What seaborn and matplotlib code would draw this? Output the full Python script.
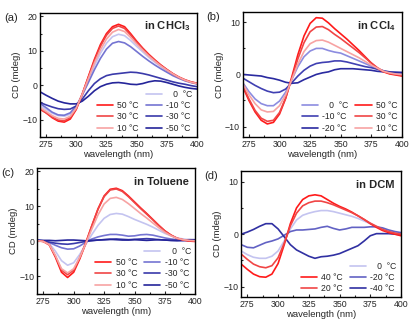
import numpy as np
import pandas as pd
import matplotlib
matplotlib.use("Agg")
import matplotlib.pyplot as plt
from matplotlib.lines import Line2D
from matplotlib.ticker import MultipleLocator, AutoMinorLocator
import seaborn as sns

sns.set_style("ticks")
plt.rcParams["font.family"] = ["Liberation Sans", "DejaVu Sans"]
plt.rcParams["mathtext.fontset"] = "custom"
plt.rcParams["mathtext.rm"] = "Liberation Sans"
plt.rcParams["mathtext.bf"] = "Liberation Sans:bold"

wavelength = list(range(270, 401, 5))

# ---- (a) CHCl3 ----
chcl3_50 = [-6.8, -8.0, -9.4, -10.4, -10.7, -9.8, -7.0, -2.5, 2.5, 7.5, 11.8, 15.0, 17.0, 17.7, 17.0, 15.0, 12.8, 10.8, 9.0, 7.4, 5.9, 4.6, 3.4, 2.4, 1.6, 1.0, 0.6]
chcl3_30 = [-7.0, -8.0, -9.2, -10.1, -10.3, -9.4, -6.8, -2.5, 2.3, 7.1, 11.3, 14.5, 16.5, 17.2, 16.5, 14.6, 12.5, 10.6, 8.8, 7.2, 5.8, 4.5, 3.3, 2.3, 1.5, 0.9, 0.5]
chcl3_10 = [-6.5, -7.6, -8.8, -9.6, -9.8, -9.0, -6.6, -2.6, 1.9, 6.4, 10.3, 13.4, 15.4, 16.2, 15.6, 13.9, 12.0, 10.2, 8.5, 7.0, 5.6, 4.4, 3.3, 2.3, 1.5, 0.9, 0.5]
chcl3_0 = [-6.0, -7.0, -8.1, -8.8, -9.0, -8.4, -6.4, -2.8, 1.4, 5.6, 9.3, 12.2, 14.1, 14.8, 14.4, 13.0, 11.3, 9.7, 8.1, 6.7, 5.4, 4.2, 3.2, 2.2, 1.5, 0.9, 0.5]
chcl3_m10 = [-5.3, -6.5, -7.8, -8.6, -8.7, -8.0, -6.0, -2.8, 0.8, 4.5, 7.8, 10.5, 12.2, 12.7, 12.3, 11.2, 9.8, 8.4, 7.1, 5.9, 4.8, 3.8, 2.8, 2.0, 1.3, 0.8, 0.4]
chcl3_m30 = [-5.0, -5.7, -6.3, -6.8, -7.0, -6.9, -6.0, -4.0, -1.6, 0.5, 1.9, 2.8, 3.2, 3.4, 3.6, 3.8, 3.7, 3.4, 3.0, 2.5, 2.0, 1.5, 1.0, 0.6, 0.3, -0.1, -0.4]
chcl3_m50 = [-1.9, -2.9, -3.8, -4.6, -5.1, -5.4, -5.4, -4.6, -3.2, -1.6, -0.4, 0.3, 0.7, 0.8, 0.6, 0.3, 0.2, 0.5, 1.0, 1.3, 1.2, 0.8, 0.3, -0.2, -0.6, -0.9, -1.1]

# ---- (b) CCl4 ----
ccl4_50 = [-2.4, -5.0, -7.2, -8.8, -9.5, -9.2, -7.6, -4.6, -0.5, 3.8, 7.4, 9.8, 10.9, 10.8, 9.9, 8.8, 7.8, 6.8, 5.7, 4.6, 3.4, 2.2, 1.2, 0.5, 0.1, -0.1, -0.3]
ccl4_30 = [-2.2, -4.7, -6.9, -8.4, -9.0, -8.8, -7.3, -4.5, -0.8, 3.0, 6.1, 8.2, 9.1, 9.2, 8.6, 7.7, 6.9, 6.0, 5.1, 4.2, 3.2, 2.2, 1.3, 0.6, 0.2, 0.0, -0.2]
ccl4_10 = [-1.8, -3.9, -5.6, -6.8, -7.2, -7.1, -6.0, -3.9, -1.0, 2.0, 4.4, 5.9, 6.5, 6.6, 6.2, 5.6, 5.0, 4.4, 3.8, 3.2, 2.5, 1.8, 1.2, 0.6, 0.3, 0.1, 0.0]
ccl4_0 = [-1.6, -3.3, -4.7, -5.6, -6.0, -6.0, -5.1, -3.4, -1.0, 1.5, 3.4, 4.5, 5.0, 5.0, 4.6, 4.3, 4.1, 3.6, 3.1, 2.6, 2.1, 1.6, 1.1, 0.7, 0.4, 0.2, 0.1]
ccl4_m10 = [-0.7, -1.4, -2.1, -2.7, -3.2, -3.5, -3.4, -2.8, -1.6, -0.3, 0.8, 1.6, 2.1, 2.3, 2.4, 2.6, 2.6, 2.4, 2.1, 1.8, 1.5, 1.3, 1.0, 0.7, 0.5, 0.4, 0.3]
ccl4_m20 = [0.0, -0.1, -0.2, -0.3, -0.6, -0.8, -1.1, -1.5, -1.7, -1.6, -1.0, -0.5, 0.0, 0.3, 0.5, 0.9, 1.1, 1.1, 1.1, 1.0, 0.9, 0.8, 0.6, 0.5, 0.4, 0.4, 0.4]

# ---- (c) Toluene ----
tol_50 = [0.2, 0.0, -1.0, -4.5, -8.8, -10.3, -8.8, -5.0, -0.5, 4.5, 9.3, 13.0, 14.9, 15.2, 14.5, 13.0, 11.3, 9.6, 8.0, 6.3, 4.6, 3.0, 1.8, 0.9, 0.4, 0.1, 0.0]
tol_30 = [0.2, 0.0, -0.9, -4.2, -8.2, -9.5, -8.2, -4.6, -0.3, 4.6, 9.2, 12.8, 14.7, 15.0, 14.3, 12.8, 11.1, 9.4, 7.8, 6.2, 4.5, 3.0, 1.8, 0.9, 0.5, 0.2, 0.1]
tol_10 = [0.2, 0.0, -0.9, -4.0, -7.8, -9.0, -7.8, -4.5, -0.6, 3.6, 7.6, 10.7, 12.3, 12.6, 12.0, 10.8, 9.4, 8.0, 6.7, 5.3, 3.9, 2.6, 1.6, 0.9, 0.5, 0.3, 0.2]
tol_0 = [0.3, 0.1, -0.6, -2.8, -5.5, -6.8, -6.1, -3.7, -0.8, 2.0, 4.6, 6.6, 7.7, 8.0, 7.8, 7.1, 6.3, 5.6, 4.9, 4.1, 3.2, 2.3, 1.6, 1.0, 0.7, 0.5, 0.4]
tol_m10 = [0.3, 0.2, -0.3, -1.1, -1.8, -2.2, -2.1, -1.3, -0.2, 0.7, 1.3, 1.7, 2.0, 2.0, 1.8, 1.5, 1.6, 1.9, 2.0, 1.8, 1.4, 1.0, 0.7, 0.5, 0.4, 0.3, 0.3]
tol_m30 = [0.3, 0.1, -0.2, -0.5, -0.7, -0.8, -0.6, -0.3, 0.0, 0.2, 0.4, 0.5, 0.6, 0.7, 0.6, 0.5, 0.6, 0.7, 0.8, 0.7, 0.5, 0.4, 0.3, 0.2, 0.2, 0.3, 0.4]
tol_m50 = [0.4, 0.3, 0.3, 0.2, 0.3, 0.4, 0.4, 0.3, 0.2, 0.3, 0.4, 0.5, 0.6, 0.5, 0.4, 0.4, 0.5, 0.4, 0.3, 0.4, 0.5, 0.4, 0.3, 0.3, 0.4, 0.5, 0.5]

# ---- (d) DCM ----
dcm_40 = [-5.7, -6.7, -7.6, -8.1, -8.2, -7.6, -5.6, -2.0, 2.0, 5.0, 6.6, 7.3, 7.5, 7.3, 6.6, 5.9, 5.3, 4.8, 4.2, 3.5, 2.8, 2.0, 1.3, 0.7, 0.3, 0.0, -0.3]
dcm_20 = [-3.8, -4.8, -5.7, -6.2, -6.4, -6.0, -4.5, -1.7, 1.6, 4.0, 5.4, 6.0, 6.3, 6.3, 6.0, 5.6, 5.1, 4.6, 4.1, 3.5, 2.8, 2.1, 1.5, 0.9, 0.5, 0.2, 0.0]
dcm_0 = [-3.2, -3.9, -4.4, -4.6, -4.6, -4.2, -3.2, -1.3, 1.0, 2.7, 3.6, 4.0, 4.3, 4.5, 4.5, 4.3, 4.0, 3.7, 3.4, 3.0, 2.5, 2.0, 1.5, 1.0, 0.6, 0.3, 0.1]
dcm_m20 = [-2.0, -2.5, -2.6, -2.1, -1.6, -1.3, -0.9, -0.2, 0.5, 0.8, 0.8, 0.9, 1.0, 1.3, 1.5, 1.1, 0.8, 1.0, 1.3, 1.3, 1.3, 1.4, 1.4, 1.2, 0.8, 0.5, 0.3]
dcm_m40 = [0.0, 0.4, 0.9, 1.5, 2.0, 2.0, 1.0, -0.5, -2.0, -3.0, -3.6, -4.2, -4.6, -4.3, -4.2, -4.0, -3.7, -3.2, -2.7, -2.2, -1.3, -0.3, 0.1, 0.1, 0.1, 0.0, -0.1]

RED = "#ff1a1a"
RED2 = "#f04545"
PINK = "#f7a3a3"

panels = [
    dict(tag="(a)", title=r"in CHCl$_\mathbf{3}$", ylim=(-15, 21), yticks=[-10, 0, 10, 20],
         rect=[0.097, 0.576, 0.380, 0.384],
         series=[("50 °C", chcl3_50, RED), ("30 °C", chcl3_30, RED2), ("10 °C", chcl3_10, PINK),
                 ("   0  °C", chcl3_0, "#c4c4f0"), ("-10 °C", chcl3_m10, "#7474d2"),
                 ("-30 °C", chcl3_m30, "#3a3aaa"), ("-50 °C", chcl3_m50, "#25259a")],
         order=[None, 0, 1, 2, 3, 4, 5, 6]),
    dict(tag="(b)", title=r"in CCl$_\mathbf{4}$", ylim=(-12, 12), yticks=[-10, 0, 10],
         rect=[0.588, 0.576, 0.385, 0.387],
         series=[("   0  °C", ccl4_0, "#8c8ce0"), ("-10 °C", ccl4_m10, "#4040b2"),
                 ("-20 °C", ccl4_m20, "#2a2aa0"), ("50 °C", ccl4_50, RED),
                 ("30 °C", ccl4_30, RED2), ("10 °C", ccl4_10, PINK)],
         order=[0, 1, 2, 3, 4, 5]),
    dict(tag="(c)", title="in Toluene", ylim=(-15, 21), yticks=[-10, 0, 10, 20],
         rect=[0.090, 0.090, 0.383, 0.390],
         series=[("50 °C", tol_50, RED), ("30 °C", tol_30, RED2), ("10 °C", tol_10, PINK),
                 ("   0  °C", tol_0, "#c4c4f0"), ("-10 °C", tol_m10, "#7474d2"),
                 ("-30 °C", tol_m30, "#3a3aaa"), ("-50 °C", tol_m50, "#25259a")],
         order=[None, 0, 1, 2, 3, 4, 5, 6]),
    dict(tag="(d)", title="in DCM", ylim=(-12, 12), yticks=[-10, 0, 10],
         rect=[0.584, 0.080, 0.387, 0.390],
         series=[("40 °C", dcm_40, RED), ("20 °C", dcm_20, RED2),
                 ("   0  °C", dcm_0, "#c4c4f0"), ("-20 °C", dcm_m20, "#6262c4"),
                 ("-40 °C", dcm_m40, "#3030a2")],
         order=[None, 0, 1, 2, 3, 4]),
]

fig = plt.figure(figsize=(4.13, 3.23), dpi=100)

for p in panels:
    ax = fig.add_axes(p["rect"])
    frames = []
    for label, vals, color in p["series"]:
        frames.append(pd.DataFrame({"wavelength": wavelength, "CD": vals, "T": label}))
    df = pd.concat(frames, ignore_index=True)
    palette = {label: color for label, _, color in p["series"]}
    # draw warmest spectra last so they sit on top
    for label, _, color in sorted(p["series"], key=lambda s: 0 if s[2] not in (RED, RED2, PINK) else 1):
        sub = df[df["T"] == label]
        sns.lineplot(data=sub, x="wavelength", y="CD", color=color, lw=1.2, ax=ax,
                     legend=False, estimator=None, sort=False)

    ax.set_xlim(270, 400)
    ax.set_ylim(*p["ylim"])
    ax.set_xticks([275, 300, 325, 350, 375, 400])
    ax.set_yticks(p["yticks"])
    ax.xaxis.set_minor_locator(AutoMinorLocator(2))
    ax.yaxis.set_minor_locator(AutoMinorLocator(2))
    ax.tick_params(which="both", direction="in", labelsize=6.3, width=0.8, pad=2)
    ax.tick_params(which="major", length=2.5)
    ax.tick_params(which="minor", length=1.3)
    for s in ax.spines.values():
        s.set_linewidth(1.0)
        s.set_color("black")
    ax.set_xlabel("wavelength (nm)", fontsize=6.8, labelpad=1)
    ax.set_ylabel("CD (mdeg)", fontsize=6.8, labelpad=1)
    ax.text(0.96, 0.89, p["title"], transform=ax.transAxes, ha="right", va="center",
            fontsize=8, fontweight="bold")
    ax.text(-0.23, 1.0, p["tag"], transform=ax.transAxes, ha="left", va="top", fontsize=8)

    handles, labels = [], []
    for idx in p["order"]:
        if idx is None:
            handles.append(Line2D([], [], color="none"))
            labels.append(" ")
        else:
            label, _, color = p["series"][idx]
            handles.append(Line2D([], [], color=color, lw=1.2))
            labels.append(label)
    ax.legend(handles, labels, ncol=2, loc="lower right", bbox_to_anchor=(1.0, 0.0),
              frameon=False, fontsize=6.2, handlelength=1.9, handletextpad=0.5,
              columnspacing=0.8, labelspacing=0.25, borderpad=0.3, borderaxespad=0.2)

fig.savefig("out.png", dpi=100)
